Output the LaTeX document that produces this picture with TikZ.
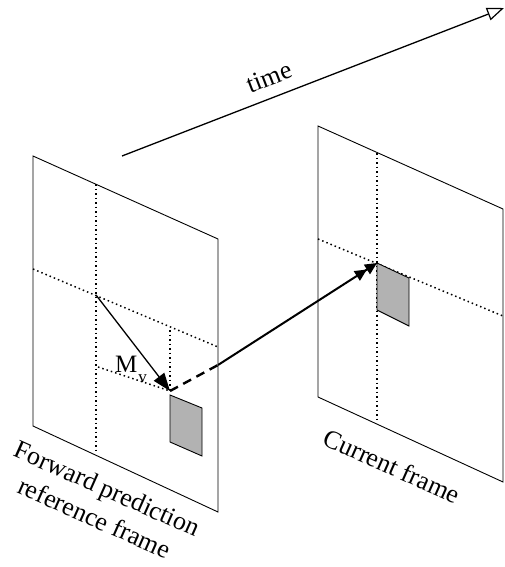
\documentclass[tikz,border=0pt]{standalone}
\usepackage{fontspec}
\setmainfont{Liberation Serif}
\usetikzlibrary{arrows.meta}
\begin{document}
\begin{tikzpicture}[x=1pt,y=-1pt,
  frameedge/.style={draw=black,line width=0.9pt,line join=miter},
  gridline/.style={line width=1.5pt,dash pattern=on 1.5pt off 3pt},
  blockface/.style={draw=black,line width=0.9pt,fill=black!30},
  txtlabel/.style={font=\fontsize{26}{32}\selectfont,inner sep=0pt,align=center},
  mvarrow/.style={line width=1.3pt,-{Triangle[length=18pt,width=13pt]}},
  predarrow/.style={line width=2pt},
  timearrow/.style={line width=1.3pt,-{Triangle[open,length=17pt,width=13pt,line width=1.2pt]}}]
\useasboundingbox (0,0) rectangle (505,567);
% left frame
\coordinate (LTL) at (33,156);
\coordinate (LTR) at (218,239);
\coordinate (LBR) at (218,512);
\coordinate (LBL) at (33,426);
\draw[frameedge] (LTL) -- (LTR) -- (LBR) -- (LBL) -- cycle;
\coordinate (LVt) at (96,184);
\coordinate (LVb) at (96,454);
\coordinate (LHl) at (33,269);
\coordinate (LHr) at (218,347);
\draw[gridline] (LVt) -- (LVb);
\draw[gridline] (LHl) -- (LHr);
\coordinate (LC) at (96,295);
\coordinate (SVt) at (170,330);
\coordinate (MVend) at (170,391);
\coordinate (SHl) at (98,367);
\draw[gridline] (SVt) -- (MVend);
\draw[gridline] (SHl) -- (MVend);
\draw[blockface] (170,395) -- (202,408) -- (202,456) -- (170,442) -- cycle;
% right frame
\coordinate (RTL) at (318,126);
\coordinate (RTR) at (503,209);
\coordinate (RBR) at (503,482);
\coordinate (RBL) at (318,397);
\draw[frameedge] (RTL) -- (RTR) -- (RBR) -- (RBL) -- cycle;
\coordinate (RVt) at (377,153);
\coordinate (RVb) at (377,423);
\coordinate (RHl) at (318,239);
\coordinate (RHr) at (503,316);
\draw[gridline] (RVt) -- (RVb);
\draw[gridline] (RHl) -- (RHr);
\coordinate (RC) at (377,263);
\draw[blockface] (RC) -- (409,278) -- (409,326) -- (377,310) -- cycle;
% motion vector
\draw[mvarrow] (LC) -- (MVend);
\node[anchor=base west,inner sep=0pt,font=\fontsize{25}{25}\selectfont] (mv) at (115,372) {M\kern1pt\raisebox{-10pt}{\fontsize{17}{17}\selectfont v}};
% prediction arrow
\coordinate (cross) at (218,365);
\draw[predarrow,line width=2.4pt,dash pattern=on 9pt off 6pt] (MVend) -- (cross);
\draw[predarrow,-{Triangle[length=12pt,width=11pt] Triangle[length=12pt,width=11pt]}] (cross) -- (RC);
% time arrow
\coordinate (tstart) at (122,156);
\coordinate (tend) at (504,8);
\draw[timearrow] (tstart) -- (tend);
\node[txtlabel,rotate=21] (time) at (269,77) {time};
% labels
\node[txtlabel,rotate=-24] (cur) at (392,466) {Current frame};
\node[txtlabel,rotate=-24] (fwd) at (101,503) {Forward prediction\\reference frame};
\end{tikzpicture}
\end{document}
